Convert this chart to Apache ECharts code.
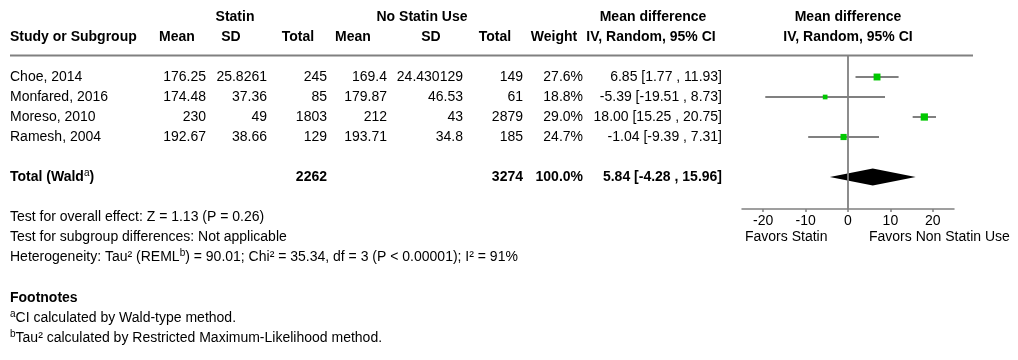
<!DOCTYPE html>
<html><head><meta charset="utf-8">
<script src="https://cdn.jsdelivr.net/npm/echarts@6/dist/echarts.min.js"></script>
<style>html,body{margin:0;padding:0;background:#fff}#c{width:1018px;height:360px}</style>
</head><body><div id="c"></div>
<script>
// ---- data ----
const studies = ['Choe, 2014', 'Monfared, 2016', 'Moreso, 2010', 'Ramesh, 2004'];
const statinMean = [176.25, 174.48, 230, 192.67];
const statinSD = [25.8261, 37.36, 49, 38.66];
const statinTotal = [245, 85, 1803, 129];
const noMean = [169.4, 179.87, 212, 193.71];
const noSD = [24.430129, 46.53, 43, 34.8];
const noTotal = [149, 61, 2879, 185];
const weights = [27.6, 18.8, 29.0, 24.7];
const md = [6.85, -5.39, 18.00, -1.04];
const ciLo = [1.77, -19.51, 15.25, -9.39];
const ciHi = [11.93, 8.73, 20.75, 7.31];
const totalStatin = 2262;
const totalNo = 3274;
const totalWeight = 100.0;
const totalMD = 5.84, totalLo = -4.28, totalHi = 15.96;
const xTicks = [-20, -10, 0, 10, 20];
const xMin = -25, xMax = 25;

// ---- style ----
const FONT = '"Liberation Sans", Arial, Helvetica, sans-serif';
const FS = 14;
const GRAY = '#808080';
const GREEN = '#00c800';
const TOTAL_ROW = 5;

const chart = echarts.init(document.getElementById('c'), null, {renderer: 'canvas'});

const studyData = studies.map((s, i) => [md[i], i, ciLo[i], ciHi[i], weights[i]]);

chart.setOption({
  backgroundColor: '#fff',
  animation: false,
  grid: {left: 742, right: 64, top: 56, bottom: 151},
  xAxis: {
    type: 'value', min: xMin, max: xMax, position: 'bottom',
    splitLine: {show: false},
    axisLine: {show: true, onZero: false, lineStyle: {color: GRAY, width: 1.5}},
    axisTick: {show: true, customValues: xTicks, length: 3, lineStyle: {color: GRAY, width: 1.5}},
    axisLabel: {show: true, customValues: xTicks, color: '#000', fontSize: FS, fontFamily: FONT, margin: 5}
  },
  yAxis: {type: 'value', min: -1.05, max: 6.6, inverse: true, show: false},
  series: [
    {
      type: 'custom', name: 'studies', data: studyData,
      encode: {x: [0, 2, 3], y: 1},
      renderItem: function (params, api) {
        const y = api.value(1);
        const p0 = api.coord([api.value(2), y]);
        const p1 = api.coord([api.value(3), y]);
        const pc = api.coord([api.value(0), y]);
        const s = api.value(4) * 0.25;
        return {type: 'group', children: [
          {type: 'line', shape: {x1: p0[0], y1: p0[1], x2: p1[0], y2: p1[1]}, style: {stroke: GRAY, lineWidth: 2}},
          {type: 'rect', shape: {x: pc[0] - s / 2, y: pc[1] - s / 2, width: s, height: s}, style: {fill: GREEN}}
        ]};
      },
      markLine: {
        silent: true, symbol: 'none', label: {show: false},
        lineStyle: {color: GRAY, width: 1.8, type: 'solid'},
        data: [{xAxis: 0}]
      },
      z: 3
    },
    {
      type: 'custom', name: 'total', data: [[totalMD, TOTAL_ROW, totalLo, totalHi]],
      encode: {x: [0, 2, 3], y: 1},
      renderItem: function (params, api) {
        const y = api.value(1);
        const pl = api.coord([api.value(2), y]);
        const pr = api.coord([api.value(3), y]);
        const pc = api.coord([api.value(0), y]);
        const h = 8.5;
        return {type: 'polygon', shape: {points: [[pl[0], pl[1]], [pc[0], pc[1] - h], [pr[0], pr[1]], [pc[0], pc[1] + h]]}, style: {fill: '#000'}};
      },
      z: 4
    }
  ]
});

// ---- table text ----
const rowY = i => chart.convertToPixel({yAxisIndex: 0}, i);
const g = [];
function txt(text, x, y, align, bold) {
  g.push({type: 'text', x: x, y: y, silent: true, style: {text: text, align: align || 'left', verticalAlign: 'middle', fontSize: FS, fontFamily: FONT, fontWeight: bold ? 'bold' : 'normal', fill: '#000'}});
}
function rich(text, x, y, bold) {
  g.push({type: 'text', x: x, y: y, silent: true, style: {
    text: text, align: 'left', verticalAlign: 'middle', fill: '#000',
    rich: {
      n: {fontSize: FS, fontFamily: FONT, fontWeight: bold ? 'bold' : 'normal', fill: '#000', lineHeight: 17},
      s: {fontSize: 10, fontFamily: FONT, fill: '#000', lineHeight: 10, verticalAlign: 'top'}
    }
  }});
}
const fmt2 = v => v.toFixed(2);
const ciText = (m, l, h) => fmt2(m) + ' [' + fmt2(l) + ' , ' + fmt2(h) + ']';

// headers
const H1 = 17, H2 = 37;
txt('Statin', 235, H1, 'center', true);
txt('No Statin Use', 422, H1, 'center', true);
txt('Mean difference', 653, H1, 'center', true);
txt('Mean difference', 848, H1, 'center', true);
txt('Study or Subgroup', 10, H2, 'left', true);
txt('Mean', 177, H2, 'center', true);
txt('SD', 231, H2, 'center', true);
txt('Total', 298, H2, 'center', true);
txt('Mean', 353, H2, 'center', true);
txt('SD', 431, H2, 'center', true);
txt('Total', 495, H2, 'center', true);
txt('Weight', 554, H2, 'center', true);
txt('IV, Random, 95% CI', 651, H2, 'center', true);
txt('IV, Random, 95% CI', 848, H2, 'center', true);
g.push({type: 'line', silent: true, shape: {x1: 10, y1: 55.5, x2: 973, y2: 55.5}, style: {stroke: GRAY, lineWidth: 2}});

// study rows
studies.forEach((s, i) => {
  const y = rowY(i);
  txt(s, 10, y);
  txt(String(statinMean[i]), 206, y, 'right');
  txt(String(statinSD[i]), 267, y, 'right');
  txt(String(statinTotal[i]), 327, y, 'right');
  txt(String(noMean[i]), 387, y, 'right');
  txt(String(noSD[i]), 463, y, 'right');
  txt(String(noTotal[i]), 523, y, 'right');
  txt(weights[i].toFixed(1) + '%', 583, y, 'right');
  txt(ciText(md[i], ciLo[i], ciHi[i]), 722, y, 'right');
});
// total row
const ty = rowY(TOTAL_ROW);
rich('{n|Total (Wald}{s|a}{n|)}', 10, ty, true);
txt(String(totalStatin), 327, ty, 'right', true);
txt(String(totalNo), 523, ty, 'right', true);
txt(totalWeight.toFixed(1) + '%', 583, ty, 'right', true);
txt(ciText(totalMD, totalLo, totalHi), 722, ty, 'right', true);

// axis captions
txt('Favors Statin', 745, 237, 'left');
txt('Favors Non Statin Use', 869, 237, 'left');

// bottom notes
txt('Test for overall effect: Z = 1.13 (P = 0.26)', 10, 217);
txt('Test for subgroup differences: Not applicable', 10, 237);
rich('{n|Heterogeneity: Tau\u00b2 (REML}{s|b}{n|) = 90.01; Chi\u00b2 = 35.34, df = 3 (P < 0.00001); I\u00b2 = 91%}', 10, 257, false);
txt('Footnotes', 10, 298, 'left', true);
rich('{s|a}{n|CI calculated by Wald-type method.}', 10, 318, false);
rich('{s|b}{n|Tau\u00b2 calculated by Restricted Maximum-Likelihood method.}', 10, 338, false);

chart.setOption({graphic: g});
</script>
</body></html>
